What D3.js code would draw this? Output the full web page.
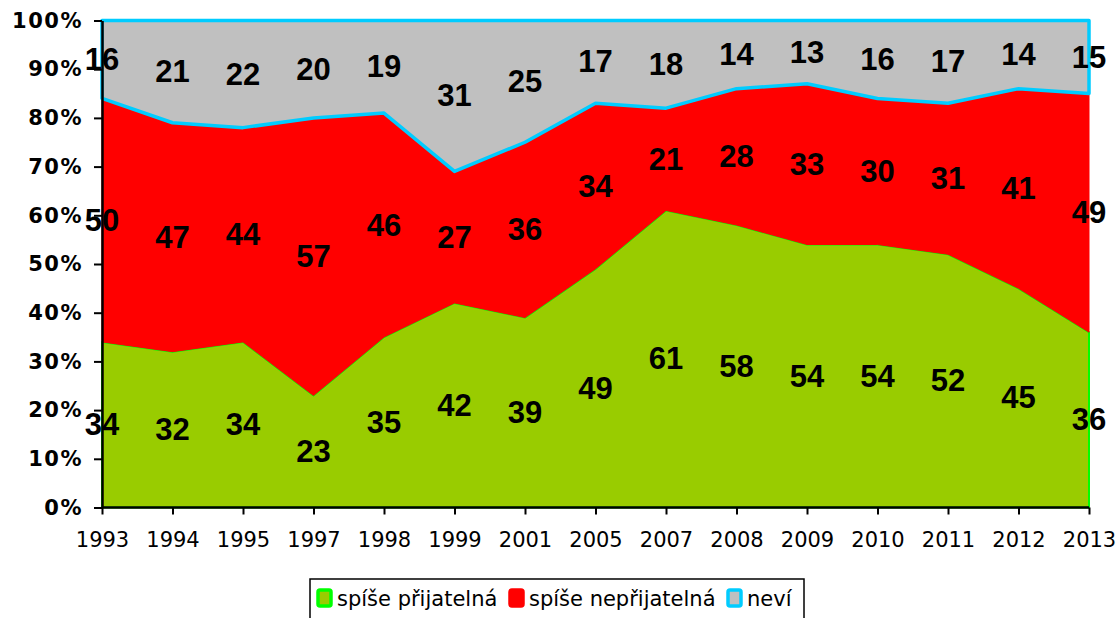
<!DOCTYPE html>
<html><head><meta charset="utf-8">
<script src="https://cdn.jsdelivr.net/npm/d3@7"></script>
<style>body{margin:0;background:#fff}svg{display:block}</style>
</head><body>
<svg id="c" width="1118" height="618"></svg>
<script>
const years = ["1993","1994","1995","1997","1998","1999","2001","2005","2007","2008","2009","2010","2011","2012","2013"];
const prijatelna = [34,32,34,23,35,42,39,49,61,58,54,54,52,45,36];
const neprijatelna = [50,47,44,57,46,27,36,34,21,28,33,30,31,41,49];
const nevi = [16,21,22,20,19,31,25,17,18,14,13,16,17,14,15];
const seriesNames = ["spíše přijatelná","spíše nepřijatelná","neví"];
const yTicks = [0,10,20,30,40,50,60,70,80,90,100];

const fills = ["#99cc00","#ff0000","#c0c0c0"];
const strokes = ["#00ff00","#ff0000","#00ccff"];
const strokeW = [2,1,3.5];

const svg = d3.select("#c");
const pLeft = 102, pRight = 1089, pTop = 20.5, pBottom = 507.5;
const x = d3.scalePoint().domain(years).range([pLeft, pRight]);
const y = d3.scaleLinear().domain([0,100]).range([pBottom, pTop]);

const rows = years.map((yr,i)=>({year:yr, a:prijatelna[i], b:neprijatelna[i], c:nevi[i]}));
const keys = ["a","b","c"];
const stack = d3.stack().keys(keys)(rows);

const area = d3.area().x(d=>x(d.data.year)).y0(d=>y(d[0])).y1(d=>y(d[1]));
stack.forEach((s,i)=>{
  svg.append("path").datum(s).attr("d",area)
    .attr("fill",fills[i]).attr("stroke",strokes[i]).attr("stroke-width",strokeW[i])
    .attr("stroke-linejoin","round");
});

// axes
const yAxis = d3.axisLeft(y).tickValues(yTicks).tickFormat(d=>d+"%").tickSize(8).tickSizeOuter(0);
const gy = svg.append("g").attr("transform",`translate(${pLeft},0)`).call(yAxis);
gy.select(".domain").attr("stroke","#000").attr("stroke-width",2.5);
gy.selectAll(".tick line").attr("stroke","#000").attr("stroke-width",2);
gy.selectAll(".tick text").attr("font-family","'DejaVu Sans', Verdana, sans-serif").attr("font-weight","bold")
  .attr("font-size",21).attr("letter-spacing",1.5).attr("fill","#000").attr("x",-19);

const xAxis = d3.axisBottom(x).tickSize(7).tickSizeOuter(0);
const gx = svg.append("g").attr("transform",`translate(0,${pBottom})`).call(xAxis);
gx.select(".domain").attr("stroke","#000").attr("stroke-width",2.5).attr("d",`M${pLeft},0H${pRight}`);
gx.selectAll(".tick line").attr("stroke","#000").attr("stroke-width",2);
gx.selectAll(".tick text").attr("font-family","'DejaVu Sans', Verdana, sans-serif")
  .attr("font-size",21).attr("fill","#000").attr("y",25);

// labels
stack.forEach((s,i)=>{
  svg.append("g").selectAll("text").data(s).join("text")
    .attr("x",d=>x(d.data.year)).attr("y",d=>y((d[0]+d[1])/2))
    .attr("text-anchor","middle").attr("dominant-baseline","central")
    .attr("font-family","'Liberation Sans', Arial, sans-serif").attr("font-weight","bold")
    .attr("font-size",31).attr("fill","#000")
    .text(d=>d[1]-d[0]);
});

// legend
const lg = svg.append("g");
lg.append("rect").attr("x",310).attr("y",579).attr("width",494).attr("height",45)
  .attr("fill","#fff").attr("stroke","#000").attr("stroke-width",1.5);
const legX = [316,508,726];
seriesNames.forEach((n,i)=>{
  lg.append("rect").attr("x",legX[i]+2).attr("y",590).attr("width",13).attr("height",16).attr("rx",2)
    .attr("fill",fills[i]).attr("stroke",strokes[i]).attr("stroke-width",3.5);
  lg.append("text").attr("x",legX[i]+21).attr("y",606).attr("font-family","'DejaVu Sans', Verdana, sans-serif")
    .attr("font-size",21).attr("fill","#000").text(n);
});
</script>
</body></html>
